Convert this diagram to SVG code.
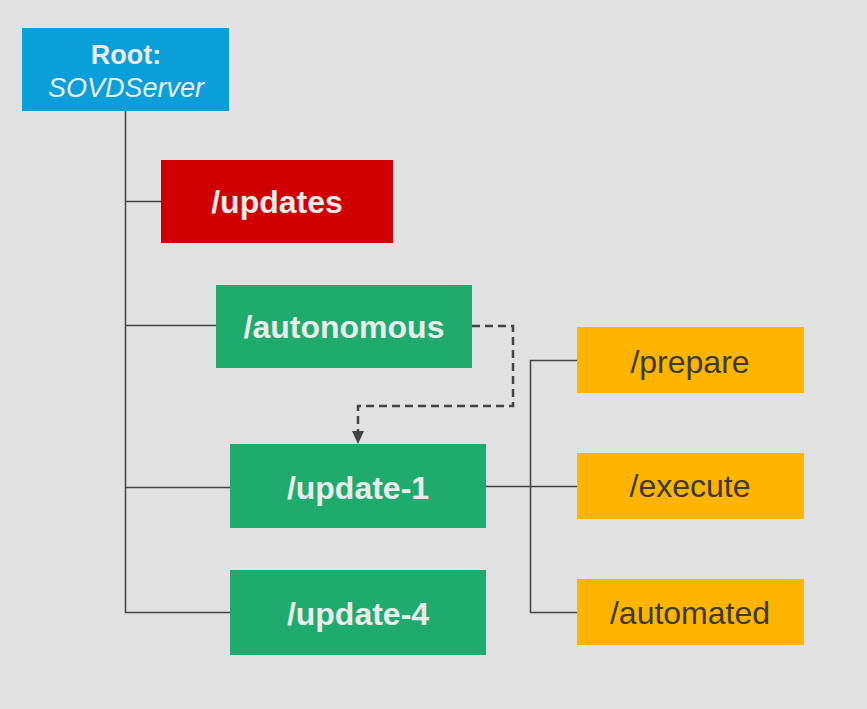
<svg xmlns="http://www.w3.org/2000/svg" width="867" height="709" viewBox="0 0 867 709">
<defs>
<style>
.bg{fill:#e1e1e1}
.lbl{font-family:"Liberation Sans",Arial,sans-serif;font-size:32px;text-anchor:middle;fill:#ebebeb}
.b{font-weight:bold}
.root{font-size:27px}
.dark{fill:#3a3a3a}
.ln{stroke:#444;stroke-width:1.5;fill:none}
.dash{stroke:#444;stroke-width:2.5;fill:none;stroke-dasharray:8,5}
</style>
</defs>
<rect class="bg" width="867" height="709"/>
<g id="connectors">
<path class="ln" d="M125.5,111 V612.5 H230"/>
<path class="ln" d="M125.5,201.5 H161"/>
<path class="ln" d="M125.5,325.5 H216"/>
<path class="ln" d="M125.5,487.5 H230"/>
<path class="ln" d="M486,486.5 H577"/>
<path class="ln" d="M577,360.5 H530.5 V612.5 H577"/>
<path class="dash" d="M472,326 H513 V406 H358 V432"/>
<path d="M352,431 L364,431 L358,444 Z" fill="#444"/>
</g>
<g id="root">
<rect x="22" y="28" width="207" height="83" fill="#0a9fd8"/>
<text class="lbl b root" x="126" y="64">Root:</text>
<text class="lbl root" x="126" y="97" font-style="italic">SOVDServer</text>
</g>
<g id="updates">
<rect x="161" y="160" width="232" height="83" fill="#d10000"/>
<text class="lbl b" x="277" y="213">/updates</text>
</g>
<g id="autonomous">
<rect x="216" y="285" width="256" height="83" fill="#20ab6e"/>
<text class="lbl b" x="344" y="338">/autonomous</text>
</g>
<g id="update-1">
<rect x="230" y="444" width="256" height="84" fill="#20ab6e"/>
<text class="lbl b" x="358" y="499">/update-1</text>
</g>
<g id="update-4">
<rect x="230" y="570" width="256" height="85" fill="#20ab6e"/>
<text class="lbl b" x="358" y="625">/update-4</text>
</g>
<g id="prepare">
<rect x="577" y="327" width="227" height="66" fill="#ffb400"/>
<text class="lbl dark" x="690" y="373">/prepare</text>
</g>
<g id="execute">
<rect x="577" y="453" width="227" height="66" fill="#ffb400"/>
<text class="lbl dark" x="690" y="497">/execute</text>
</g>
<g id="automated">
<rect x="577" y="579" width="227" height="66" fill="#ffb400"/>
<text class="lbl dark" x="690" y="624">/automated</text>
</g>
</svg>
